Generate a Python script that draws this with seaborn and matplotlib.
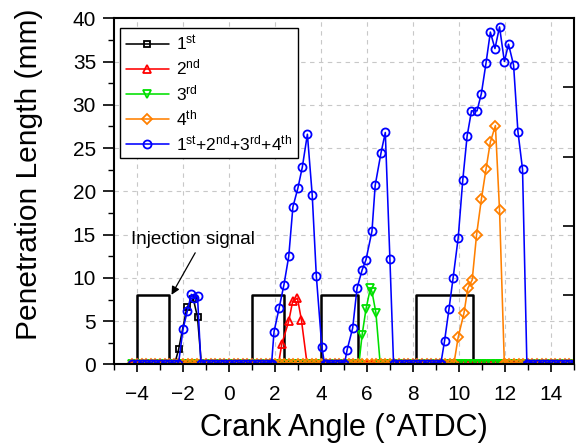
import matplotlib
matplotlib.use("Agg")
import matplotlib.pyplot as plt
from matplotlib.ticker import MultipleLocator
import seaborn as sns
import pandas as pd

# ---------------- data ----------------
# camera frame angles used for the zero-penetration baseline samples
frame_angles = [-4.2, -4.0, -3.8, -3.6, -3.4, -3.2, -3.0, -2.8, -2.6, -2.4, -2.2, -2.0,
                -1.8, -1.6, -1.4, -1.2, -1.0, -0.8, -0.6, -0.4, -0.2, 0.0, 0.2, 0.4,
                0.6, 0.8, 1.0, 1.2, 1.4, 1.6, 1.8, 2.0, 2.2, 2.4, 2.6, 2.8, 3.0, 3.2,
                3.4, 3.6, 3.8, 4.0, 4.2, 4.4, 4.6, 4.8, 5.0, 5.2, 5.4, 5.6, 5.8, 6.0,
                6.2, 6.4, 6.6, 6.8, 7.0, 7.2, 7.4, 7.6, 7.8, 8.0, 8.2, 8.4, 8.6, 8.8,
                9.0, 9.2, 9.4, 9.6, 9.8, 10.0, 10.2, 10.4, 10.6, 10.8, 11.0, 11.2,
                11.4, 11.6, 11.8, 12.0, 12.2, 12.4, 12.6, 12.8, 13.0, 13.2, 13.4,
                13.6, 13.8, 14.0, 14.2, 14.4, 14.6, 14.8, 15.0]

# spray-active samples of each injection (edges are at zero)
first_x = [-2.37, -2.19, -1.83, -1.55, -1.37, -1.20]
first_y = [0.0, 1.76, 6.6, 7.57, 5.45, 0.0]

second_x = [2.15, 2.30, 2.60, 2.77, 2.98, 3.15, 3.40]
second_y = [0.0, 2.4, 5.0, 7.3, 7.65, 5.15, 0.0]

third_x = [5.65, 5.79, 5.96, 6.15, 6.22, 6.39, 6.58]
third_y = [0.0, 3.4, 6.4, 8.8, 8.4, 6.0, 0.0]

fourth_x = [9.78, 9.97, 10.22, 10.39, 10.58, 10.77, 10.98, 11.18, 11.37, 11.59, 11.77, 11.98]
fourth_y = [0.0, 3.14, 5.9, 8.8, 9.76, 14.96, 19.1, 22.55, 25.7, 27.6, 17.8, 0.0]

all_x = [-2.20, -2.00, -1.81, -1.64, -1.54, -1.37, -1.22,
         1.85, 1.96, 2.18, 2.39, 2.60, 2.78, 3.00, 3.19, 3.41, 3.62, 3.80, 4.04, 4.16,
         5.02, 5.14, 5.38, 5.57, 5.79, 5.96, 6.22, 6.36, 6.61, 6.80, 7.00, 7.16,
         9.21, 9.38, 9.57, 9.75, 9.97, 10.17, 10.36, 10.55, 10.79, 10.98, 11.18, 11.37,
         11.57, 11.77, 11.98, 12.16, 12.38, 12.57, 12.77, 12.96]
all_y = [0.0, 4.1, 6.2, 8.1, 7.65, 7.9, 0.0,
         0.0, 3.8, 6.5, 9.2, 12.5, 18.2, 20.4, 22.8, 26.6, 19.6, 10.2, 2.0, 0.0,
         0.0, 1.7, 4.2, 8.8, 10.9, 12.1, 15.4, 20.7, 24.4, 26.8, 12.2, 0.0,
         0.0, 2.75, 6.4, 10.0, 14.6, 21.3, 26.4, 29.3, 29.3, 31.3, 34.8, 38.4,
         36.5, 39.0, 35.0, 37.0, 34.6, 26.9, 22.55, 0.0]

# injection signal (rectangular pulses)
pulse_start = [-4.0, 1.0, 4.0, 8.15]
pulse_end = [-2.6, 2.4, 5.6, 10.6]
pulse_height = 8.0

labels = [r"1$^{\mathrm{st}}$", r"2$^{\mathrm{nd}}$", r"3$^{\mathrm{rd}}$", r"4$^{\mathrm{th}}$",
          r"1$^{\mathrm{st}}$+2$^{\mathrm{nd}}$+3$^{\mathrm{rd}}$+4$^{\mathrm{th}}$"]
colors = ["#000000", "#ff0000", "#00e000", "#ff8000", "#0000ff"]
markers = ["s", "^", "v", "D", "o"]
msizes = [4.0, 6.0, 6.0, 5.5, 5.8]

# ---------------- style ----------------
sns.set_theme(style="ticks")
plt.rcParams["font.family"] = ["Liberation Sans", "DejaVu Sans"]
plt.rcParams["mathtext.fontset"] = "custom"
plt.rcParams["mathtext.rm"] = "Liberation Sans"
plt.rcParams["mathtext.it"] = "Liberation Sans:italic"
plt.rcParams["mathtext.bf"] = "Liberation Sans:bold"
for key in ["text.color", "axes.labelcolor", "xtick.color", "ytick.color",
            "axes.edgecolor", "xtick.labelcolor", "ytick.labelcolor"]:
    plt.rcParams[key] = "black"

fig = plt.figure(figsize=(5.79, 4.45), dpi=100)
ax = fig.add_axes([0.197, 0.181, 0.794, 0.778])


def with_baseline(px, py):
    lo, hi = px[0], px[-1]
    pts = [(f, 0.0) for f in frame_angles if f < lo or f > hi]
    pts += list(zip(px, py))
    pts.sort(key=lambda p: p[0])
    return pd.DataFrame(pts, columns=["angle", "length"])


# injection signal
sig_x = [-5.0]
sig_y = [0.0]
for s, e in zip(pulse_start, pulse_end):
    sig_x += [s, s, e, e]
    sig_y += [0.0, pulse_height, pulse_height, 0.0]
sig_x.append(15.0)
sig_y.append(0.0)
sns.lineplot(x=sig_x, y=sig_y, ax=ax, color="black", lw=1.8, sort=False,
             estimator=None, zorder=1.5, legend=False)

series = [(first_x, first_y), (second_x, second_y), (third_x, third_y),
          (fourth_x, fourth_y)]
dfs = [with_baseline(px, py) for px, py in series]

# blue series: baseline between the four peaks
pts = list(zip(all_x, all_y))
zero_edges = [(all_x[i], all_x[j]) for i, j in [(0, 6), (7, 19), (20, 31), (32, 51)]]
for f in frame_angles:
    if not any(a <= f <= b for a, b in zero_edges):
        pts.append((f, 0.0))
pts.sort(key=lambda p: p[0])
dfs.append(pd.DataFrame(pts, columns=["angle", "length"]))

handles = []
for df, lab, c, m, ms in zip(dfs, labels, colors, markers, msizes):
    sns.lineplot(data=df, x="angle", y="length", ax=ax, color=c, lw=1.15,
                 marker=m, markersize=ms, markerfacecolor="none",
                 markeredgecolor=c, markeredgewidth=1.3, sort=False,
                 estimator=None, label=lab, legend=False)
    handles.append(ax.get_lines()[-1])

ax.set_xlim(-5, 15)
ax.set_ylim(0, 40)
ax.xaxis.set_major_locator(MultipleLocator(2))
ax.xaxis.set_minor_locator(MultipleLocator(1))
ax.yaxis.set_major_locator(MultipleLocator(5))
ax.yaxis.set_minor_locator(MultipleLocator(2.5))
ax.set_xticks([-4, -2, 0, 2, 4, 6, 8, 10, 12, 14])

ax.grid(True, which="major", color="#c8c8c8", ls=(0, (4, 4)), lw=0.8)
for sp in ax.spines.values():
    sp.set_linewidth(1.5)
    sp.set_color("black")
ax.tick_params(axis="both", which="major", labelsize=15, color="black",
               labelcolor="black", width=1.2)
ax.tick_params(axis="y", which="major", length=8, pad=5, direction="out", left=True)
ax.tick_params(axis="y", which="minor", length=4.5, width=1.0, direction="out", left=True)
ax.tick_params(axis="x", which="major", length=6, pad=8.5, direction="out", bottom=True)
ax.tick_params(axis="x", which="minor", length=4, width=1.0, direction="out", bottom=True)

ax2 = ax.twinx()
ax2.set_ylim(0, 40)
ax2.set_yticks([8, 16, 24, 32])
ax2.tick_params(axis="y", direction="in", length=8, width=1.2, labelright=False, color="black")
for sp in ax2.spines.values():
    sp.set_visible(False)
ax2.grid(False)

ax.set_xlabel("Crank Angle (\u00b0ATDC)", fontsize=22, color="black")
ax.set_ylabel("Penetration Length (mm)", fontsize=21.5, color="black")
ax.xaxis.set_label_coords(0.5, -0.14)
ax.yaxis.set_label_coords(-0.155, 0.55)

ax.text(-1.55, 14.4, "Injection signal", ha="center", va="center",
        fontsize=13.5, color="black")
ax.annotate("", xy=(-2.5, 8.05), xytext=(-1.47, 12.9),
            arrowprops=dict(arrowstyle="-|>", color="black", lw=0.9,
                            mutation_scale=12, shrinkA=0, shrinkB=0))

leg = ax.legend(handles=handles, labels=labels, loc="upper left",
                bbox_to_anchor=(0.014, 0.972), fontsize=12.5, frameon=True,
                fancybox=False, edgecolor="black", framealpha=1,
                handlelength=2.5, handletextpad=0.4, labelspacing=0.3,
                borderpad=0.3, borderaxespad=0)
leg.get_frame().set_linewidth(1.0)
for t in leg.get_texts():
    t.set_color("black")

fig.savefig("out.png", dpi=100)
